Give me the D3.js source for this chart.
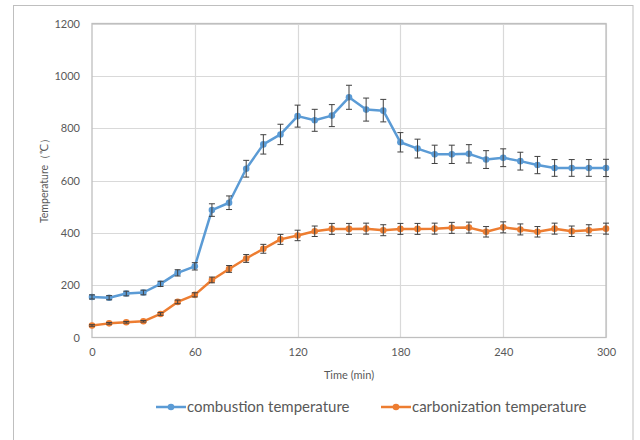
<!DOCTYPE html>
<html>
<head>
<meta charset="utf-8">
<script src="https://cdn.jsdelivr.net/npm/d3@7"></script>
<style>
  body { margin: 0; background: #ffffff; }
  #chart { width: 640px; height: 440px; }
</style>
</head>
<body>
<div id="chart"></div>
<script>
// time points (min)
var times = [0, 10, 20, 30, 40, 50, 60, 70, 80, 90, 100, 110, 120, 130, 140, 150,
             160, 170, 180, 190, 200, 210, 220, 230, 240, 250, 260, 270, 280, 290, 300];

// combustion temperature and its error
var combustion = [155, 152, 168, 172, 205, 247, 272, 487, 515, 645, 738, 776, 846, 830, 848, 918,
                  871, 867, 746, 722, 700, 700, 702, 680, 687, 674, 659, 648, 648, 648, 648];
var combustionErr = [8, 8, 9, 9, 10, 12, 14, 24, 26, 32, 37, 39, 42, 42, 42, 46,
                     44, 43, 37, 36, 35, 35, 35, 34, 34, 34, 33, 32, 32, 32, 33];

// carbonization temperature and its error
var carbonization = [46, 54, 58, 62, 90, 136, 163, 220, 262, 302, 339, 375, 390, 406, 415, 415,
                     416, 410, 415, 415, 416, 419, 420, 404, 421, 413, 404, 416, 406, 410, 416];
var carbonizationErr = [3, 3, 3, 3, 5, 7, 8, 11, 13, 15, 17, 19, 20, 20, 21, 21,
                        21, 21, 21, 21, 21, 21, 21, 20, 21, 21, 20, 21, 20, 21, 21];

var xTicks = [0, 60, 120, 180, 240, 300];
var yTicks = [0, 200, 400, 600, 800, 1000, 1200];

var seriesNames = ["combustion temperature", "carbonization temperature"];
var seriesColors = ["#5b9bd5", "#ed7d31"];

(function() {

    var width = 640, height = 440;
    var margin = { top: 23.5, right: 34, bottom: 102.5, left: 92 };
    var font = "Lato, 'Open Sans', sans-serif";
    var textColor = "#595959";

    var svg = d3.select("#chart").append("svg")
        .attr("width", width)
        .attr("height", height);

    // outer frame
    svg.append("rect")
        .attr("x", 13.5)
        .attr("y", 5.5)
        .attr("width", 619.5)
        .attr("height", 460)
        .attr("fill", "#ffffff")
        .attr("stroke", "#bfbfbf")
        .attr("stroke-width", 1);

    var xScale = d3.scaleLinear()
        .domain([0, 300])
        .range([margin.left, width - margin.right]);

    var yScale = d3.scaleLinear()
        .domain([0, 1200])
        .range([height - margin.bottom, margin.top]);

    // gridlines
    svg.append("g")
        .selectAll("line.hgrid")
        .data(yTicks.slice(1))
        .enter()
        .append("line")
        .attr("x1", xScale(0))
        .attr("x2", xScale(300))
        .attr("y1", function(d) { return Math.round(yScale(d)) + 0.5; })
        .attr("y2", function(d) { return Math.round(yScale(d)) + 0.5; })
        .attr("stroke", "#d9d9d9")
        .attr("stroke-width", 1.2);

    svg.append("g")
        .selectAll("line.vgrid")
        .data(xTicks.slice(1))
        .enter()
        .append("line")
        .attr("x1", function(d) { return Math.round(xScale(d)) + 0.5; })
        .attr("x2", function(d) { return Math.round(xScale(d)) + 0.5; })
        .attr("y1", yScale(0))
        .attr("y2", yScale(1200))
        .attr("stroke", "#d9d9d9")
        .attr("stroke-width", 1.2);

    // plot border
    svg.append("rect")
        .attr("x", xScale(0))
        .attr("y", yScale(1200))
        .attr("width", xScale(300) - xScale(0))
        .attr("height", yScale(0) - yScale(1200))
        .attr("fill", "none")
        .attr("stroke", "#bfbfbf")
        .attr("stroke-width", 1.3);

    // y axis labels
    var yAxis = d3.axisLeft(yScale)
        .tickValues(yTicks)
        .tickFormat(d3.format("d"))
        .tickSize(0)
        .tickPadding(12);
    var gy = svg.append("g")
        .attr("transform", "translate(" + xScale(0) + ",0)")
        .call(yAxis);
    gy.select(".domain").remove();
    gy.selectAll("text")
        .attr("fill", textColor)
        .attr("font-family", font)
        .attr("font-size", "11px");

    // x axis labels
    var xAxis = d3.axisBottom(xScale)
        .tickValues(xTicks)
        .tickFormat(d3.format("d"))
        .tickSize(0)
        .tickPadding(11);
    var gx = svg.append("g")
        .attr("transform", "translate(0," + yScale(0) + ")")
        .call(xAxis);
    gx.select(".domain").remove();
    gx.selectAll("text")
        .attr("fill", textColor)
        .attr("font-family", font)
        .attr("font-size", "11px");

    // axis titles
    svg.append("text")
        .attr("x", (xScale(0) + xScale(300)) / 2)
        .attr("y", 379)
        .attr("text-anchor", "middle")
        .attr("fill", textColor)
        .attr("font-family", font)
        .attr("font-size", "11px")
        .text("Time (min)");

    svg.append("text")
        .attr("transform", "translate(48," + 178 + ") rotate(-90)")
        .attr("text-anchor", "middle")
        .attr("fill", textColor)
        .attr("font-family", font)
        .attr("font-size", "10.5px")
        .text("Temperature（℃）");

    var series = [
        { values: combustion, err: combustionErr, color: seriesColors[0] },
        { values: carbonization, err: carbonizationErr, color: seriesColors[1] }
    ];

    var line = d3.line()
        .x(function(d) { return xScale(d.t); })
        .y(function(d) { return yScale(d.v); });

    series.forEach(function(s) {
        var pts = times.map(function(t, i) {
            return { t: t, v: s.values[i], e: s.err[i] };
        });

        var g = svg.append("g");

        g.append("path")
            .datum(pts)
            .attr("d", line)
            .attr("fill", "none")
            .attr("stroke", s.color)
            .attr("stroke-width", 2.5)
            .attr("stroke-linejoin", "round");

        g.selectAll("circle")
            .data(pts)
            .enter()
            .append("circle")
            .attr("cx", function(d) { return xScale(d.t); })
            .attr("cy", function(d) { return yScale(d.v); })
            .attr("r", 3.3)
            .attr("fill", s.color);

        // error bars
        var eb = g.selectAll("g.err")
            .data(pts)
            .enter()
            .append("g")
            .attr("stroke", "#404040")
            .attr("stroke-width", 1);

        eb.append("line")
            .attr("x1", function(d) { return xScale(d.t); })
            .attr("x2", function(d) { return xScale(d.t); })
            .attr("y1", function(d) { return yScale(d.v - d.e); })
            .attr("y2", function(d) { return yScale(d.v + d.e); });

        eb.append("line")
            .attr("x1", function(d) { return xScale(d.t) - 3; })
            .attr("x2", function(d) { return xScale(d.t) + 3; })
            .attr("y1", function(d) { return yScale(d.v + d.e); })
            .attr("y2", function(d) { return yScale(d.v + d.e); });

        eb.append("line")
            .attr("x1", function(d) { return xScale(d.t) - 3; })
            .attr("x2", function(d) { return xScale(d.t) + 3; })
            .attr("y1", function(d) { return yScale(d.v - d.e); })
            .attr("y2", function(d) { return yScale(d.v - d.e); });
    });

    // legend
    var legendY = 407;
    var legendX = [156, 381];

    seriesNames.forEach(function(name, i) {
        var lg = svg.append("g")
            .attr("transform", "translate(" + legendX[i] + "," + legendY + ")");

        lg.append("line")
            .attr("x1", 0)
            .attr("x2", 30)
            .attr("y1", 0)
            .attr("y2", 0)
            .attr("stroke", seriesColors[i])
            .attr("stroke-width", 2.5);

        lg.append("circle")
            .attr("cx", 15)
            .attr("cy", 0)
            .attr("r", 3.3)
            .attr("fill", seriesColors[i]);

        lg.append("text")
            .attr("x", 31)
            .attr("y", 5)
            .attr("fill", textColor)
            .attr("font-family", font)
            .attr("font-size", "15px")
            .text(name);
    });

})();
</script>
</body>
</html>
